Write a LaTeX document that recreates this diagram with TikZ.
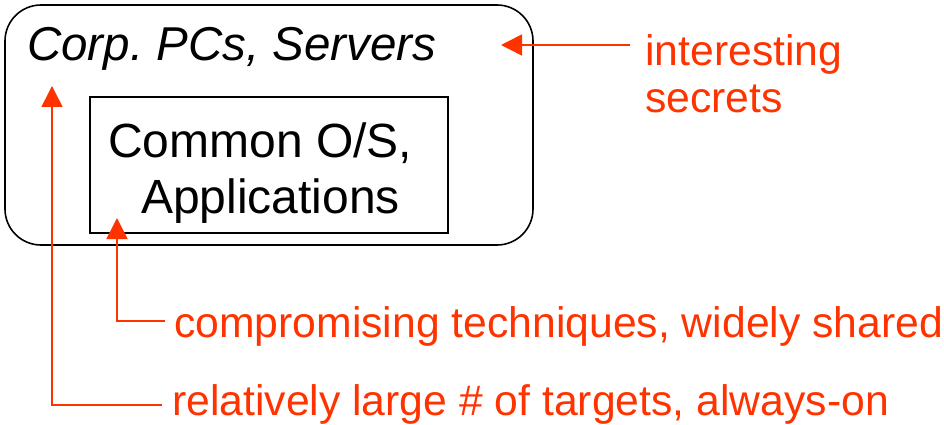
\documentclass[tikz,border=0pt]{standalone}
\usepackage{fontspec}
\setmainfont{Liberation Sans}
\usetikzlibrary{arrows.meta}
\definecolor{accent}{HTML}{FF3300}
\frenchspacing
\begin{document}
\begin{tikzpicture}[x=1pt,y=-1pt,
  blackbox/.style={draw=black,line width=1.6pt,inner sep=0pt},
  blacktext/.style={anchor=base west,inner sep=0pt,font=\fontsize{48}{54}\selectfont},
  notetext/.style={anchor=base west,inner sep=0pt,text=accent,font=\fontsize{42.7}{48}\selectfont},
  pointer/.style={draw=accent,line width=1.6pt,-{Triangle[length=21pt,width=21pt]}}]
\useasboundingbox (0,0) rectangle (944,425);
\node[blackbox,rounded corners=36pt,minimum width=528pt,minimum height=240pt] (outer) at (269,125) {};
\node[blackbox,minimum width=358pt,minimum height=136pt] (inner) at (269,165) {};
\node[blacktext,font=\fontsize{47.5}{54}\selectfont\itshape] (corp) at (27,61) {Corp. PCs, Servers};
\node[blacktext] (common) at (108,157) {Common O/S,};
\node[blacktext] (apps) at (141,213) {Applications};
\node[notetext] (interesting) at (645,66) {interesting};
\node[notetext] (secrets) at (645,113) {secrets};
\node[notetext] (compromising) at (174,337) {compromising techniques, widely shared};
\node[notetext] (relatively) at (172,415.5) {relatively large \# of targets, always-on};
\coordinate (tipA) at (501,45);
\coordinate (startA) at (630,45);
\coordinate (tipB) at (117,218);
\coordinate (cornerB) at (117,321);
\coordinate (startB) at (165,321);
\coordinate (tipC) at (52,86);
\coordinate (cornerC) at (52,405);
\coordinate (startC) at (162,405);
\draw[pointer] (startA) -- (tipA);
\draw[pointer] (startB) -- (cornerB) -- (tipB);
\draw[pointer] (startC) -- (cornerC) -- (tipC);
\end{tikzpicture}
\end{document}
